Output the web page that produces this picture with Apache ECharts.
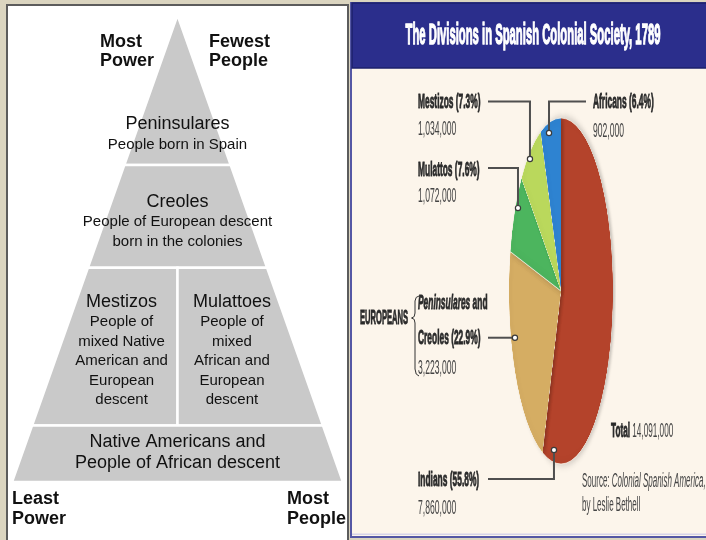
<!DOCTYPE html>
<html><head><meta charset="utf-8">
<script src="https://cdn.jsdelivr.net/npm/echarts@6/dist/echarts.min.js"></script>
<style>
html,body{margin:0;padding:0;background:#dbd5c0;}
#wrap{position:relative;width:706px;height:540px;overflow:hidden;}
#bg,#fg{position:absolute;left:0;top:0;width:706px;height:540px;}
#pie{position:absolute;}
</style></head><body>
<div id="wrap"><div id="bg"></div><div id="pie"></div><div id="fg"></div></div>
<script>
// ---------------- data ----------------
const pyramidNames = ['Peninsulares', 'Creoles', 'Mestizos', 'Mulattoes', 'Native Americans and\nPeople of African descent'];
const pyramidNotes = ['People born in Spain', 'People of European descent\nborn in the colonies',
  'People of\nmixed Native\nAmerican and\nEuropean\ndescent', 'People of\nmixed\nAfrican and\nEuropean\ndescent', ''];
const pyramidDepth = [[0, 0.321], [0.321, 0.541], [0.541, 0.879], [0.541, 0.879], [0.879, 1]];
const pyramidSide = [[-1, 1], [-1, 1], [-1, 0], [0, 1], [-1, 1]];
const cornerTexts = ['Most\nPower', 'Fewest\nPeople', 'Least\nPower', 'Most\nPeople'];

const title = 'The Divisions in Spanish Colonial Society, 1789';
const groups = ['Indians', 'Peninsulares and Creoles', 'Mulattos', 'Mestizos', 'Africans'];
const population = [7860000, 3223000, 1072000, 1034000, 902000];
const europeansTag = 'EUROPEANS';
const totalLabel = 'Total';
const sourceLines = ['Source: ', 'Colonial Spanish America,', 'by Leslie Bethell'];

// ---------------- layout / style ----------------
const FF = 'Liberation Sans';
const pieColors = ['#b4432b', '#d5ad63', '#4cb55e', '#bad85c', '#2e83d1'];
const pyramidTextAt = [[0, 0.2553], [0, 0.4422], [-0.338, 0.7189], [0.329, 0.7189], [0, 0.9379]];
const pieGeo = {cx: 561, cy: 290.7, rx: 52, ry: 173};
const notes = [
  {t: 0.938, r: 0.93, lineY: 479, endX: 488, textX: 418, nameY: 480, countY: 508},
  {t: 0.633, r: 0.926, lineY: null, endX: 488, textX: 418, nameY: 338, countY: 368, firstY: 303},
  {t: 0.615, r: 0.955, lineY: 168, endX: 488, textX: 418, nameY: 170, countY: 196},
  {t: 0.43, r: 0.967, lineY: 101.5, endX: 488, textX: 418, nameY: 102, countY: 129},
  {t: 0.384, r: 0.94, lineY: 101.5, endX: 586, textX: 593, nameY: 102, countY: 131}
];
const FS = 20, NAME_SX = 0.42, COUNT_SX = 0.43;

// ---------------- background + pyramid chart ----------------
const bg = echarts.init(document.getElementById('bg'), null, {renderer: 'canvas'});
function corner(txt, x, y, lh) {
  return {type: 'text', x: x, y: y, style: {text: txt, fill: '#111', fontSize: 18, fontWeight: 'bold', fontFamily: FF,
    lineHeight: lh, align: 'left', textAlign: 'left', verticalAlign: 'middle', textVerticalAlign: 'middle'}};
}
bg.setOption({
  animation: false,
  backgroundColor: '#dbd5c0',
  graphic: [
    {type: 'rect', z: 0, shape: {x: 7, y: 5, width: 341, height: 545}, style: {fill: '#ffffff', stroke: '#5c5c5c', lineWidth: 2}},
    {type: 'rect', z: 0, shape: {x: 351, y: 3, width: 362, height: 534}, style: {fill: '#fcf5eb', stroke: '#5457a4', lineWidth: 2}},
    {type: 'rect', z: 1, shape: {x: 352, y: 533.5, width: 360, height: 1.5}, style: {fill: '#d6d3ea'}},
    {type: 'rect', z: 1, shape: {x: 352, y: 3, width: 360, height: 65}, style: {fill: '#2b2e8c', stroke: '#1d206c', lineWidth: 1.5}},
    {type: 'text', z: 2, x: 533, y: 35.5, scaleX: 0.376, style: {text: title, fill: '#ffffff', fontSize: 30, fontWeight: 'bold', fontFamily: FF,
      stroke: '#ffffff', lineWidth: 1.4, align: 'center', textAlign: 'center', verticalAlign: 'middle', textVerticalAlign: 'middle'}},
    corner(cornerTexts[0], 100, 51.75, 18.5),
    corner(cornerTexts[1], 209, 51.75, 18.5),
    corner(cornerTexts[2], 12, 509, 20),
    corner(cornerTexts[3], 287, 509, 20)
  ],
  grid: {left: 12, right: 363, top: 15, bottom: 58},
  xAxis: {type: 'value', min: -1, max: 1, show: false},
  yAxis: {type: 'value', min: 0, max: 1, inverse: true, show: false},
  series: [{
    type: 'custom',
    silent: true,
    data: pyramidDepth.map((d, i) => [d[0], d[1], pyramidSide[i][0], pyramidSide[i][1]]),
    renderItem: function (params, api) {
      const y0 = api.value(0), y1 = api.value(1), s0 = api.value(2), s1 = api.value(3);
      const pts = [[s0 * y0, y0], [s1 * y0, y0], [s1 * y1, y1], [s0 * y1, y1]].map(p => api.coord(p));
      const i = params.dataIndex;
      const tp = api.coord(pyramidTextAt[i]);
      let lines = pyramidNames[i].split('\n').map(l => '{t|' + l + '}');
      if (pyramidNotes[i]) lines = lines.concat(pyramidNotes[i].split('\n').map(l => '{d|' + l + '}'));
      return {type: 'group', children: [
        {type: 'polygon', shape: {points: pts}, style: {fill: '#c9c9c9', stroke: '#ffffff', lineWidth: 2.5}},
        {type: 'text', x: tp[0], y: tp[1], style: {
          text: lines.join('\n'), fill: '#111', align: 'center', textAlign: 'center',
          verticalAlign: 'middle', textVerticalAlign: 'middle',
          rich: {
            t: {fontSize: 18, fontFamily: FF, lineHeight: 21, fill: '#111', align: 'center'},
            d: {fontSize: 15, fontFamily: FF, lineHeight: 19.5, fill: '#111', align: 'center'}
          }
        }}
      ]};
    }
  }]
});

// ---------------- pie (elliptical via horizontal squash) ----------------
const S = 2 * pieGeo.ry + 20;
const pieDiv = document.getElementById('pie');
pieDiv.style.left = (pieGeo.cx - S / 2) + 'px';
pieDiv.style.top = (pieGeo.cy - S / 2) + 'px';
pieDiv.style.width = S + 'px';
pieDiv.style.height = S + 'px';
pieDiv.style.transformOrigin = '50% 50%';
pieDiv.style.transform = 'scaleX(' + (pieGeo.rx / pieGeo.ry) + ')';
const pc = echarts.init(pieDiv, null, {renderer: 'canvas'});
pc.setOption({
  animation: false,
  backgroundColor: 'transparent',
  series: [{
    type: 'pie', silent: true, center: ['50%', '50%'], radius: [0, pieGeo.ry],
    startAngle: 90, clockwise: true, label: {show: false}, labelLine: {show: false},
    itemStyle: {borderColor: 'rgba(255,250,240,0.7)', borderWidth: 1, shadowBlur: 10, shadowColor: 'rgba(0,0,0,0.22)', shadowOffsetX: 6},
    data: groups.map((g, i) => ({name: g, value: population[i], itemStyle: {color: pieColors[i]}}))
  }]
});

// ---------------- annotations ----------------
const total = population.reduce((a, b) => a + b, 0);
let acc = 0;
const spans = population.map(v => { const a0 = acc / total * 360; acc += v; return [a0, acc / total * 360]; });
function ellPt(deg, r) {
  const a = deg * Math.PI / 180;
  return [pieGeo.cx + pieGeo.rx * r * Math.sin(a), pieGeo.cy - pieGeo.ry * r * Math.cos(a)];
}
const fmt = n => n.toLocaleString('en-US');
const pct = v => (v / total * 100).toFixed(1) + '%';
function txt(text, x, y, sx, opts) {
  return {type: 'text', x: x, y: y, scaleX: sx, z: 5, style: Object.assign({
    text: text, fill: '#2a2a2a', fontSize: FS, fontFamily: FF, align: 'left', textAlign: 'left',
    verticalAlign: 'middle', textVerticalAlign: 'middle'}, opts || {})};
}
const BOLD = {fontWeight: 'bold', stroke: '#2a2a2a', lineWidth: 0.9};
const lines = [], dots = [], labels = [];
groups.forEach((g, i) => {
  const n = notes[i];
  const sp = spans[i];
  const p = ellPt(sp[0] + n.t * (sp[1] - sp[0]), n.r);
  const pts = n.lineY == null ? [p, [n.endX, p[1]]] : [p, [p[0], n.lineY], [n.endX, n.lineY]];
  lines.push({type: 'polyline', z: 4, shape: {points: pts}, style: {stroke: '#4f4f4f', lineWidth: 2, fill: null}});
  dots.push({type: 'circle', z: 6, shape: {cx: p[0], cy: p[1], r: 2.6}, style: {fill: '#ffffff', stroke: '#3a3a3a', lineWidth: 1.2}});
  if (g.indexOf(' and ') > 0) {
    const parts = g.split(' and ');
    labels.push(txt('{i|' + parts[0] + '} and', n.textX, n.firstY, NAME_SX, Object.assign({}, BOLD, {
      rich: {i: {fontStyle: 'italic', fontWeight: 'bold', fontSize: FS, fontFamily: FF, fill: '#2a2a2a', stroke: '#2a2a2a', lineWidth: 0.9}}})));
    labels.push(txt(parts[1] + ' (' + pct(population[i]) + ')', n.textX, n.nameY, NAME_SX, BOLD));
  } else {
    labels.push(txt(g + ' (' + pct(population[i]) + ')', n.textX, n.nameY, NAME_SX, BOLD));
  }
  labels.push(txt(fmt(population[i]), n.textX, n.countY, COUNT_SX, {fill: '#444'}));
});
labels.push(txt(europeansTag, 360, 318, 0.38, BOLD));
labels.push({type: 'polyline', z: 5, shape: {points: [[419, 296], [416.2, 297.4], [415, 301], [415, 313], [414.2, 316.6], [411.5, 318],
  [414.2, 319.4], [415, 323], [415, 369], [416.2, 374], [419, 376]]}, style: {stroke: '#333', lineWidth: 1, fill: null}});
labels.push(txt('{b|' + totalLabel + '} ' + fmt(total), 611, 431, 0.41, {fill: '#444',
  rich: {b: {fontWeight: 'bold', fontSize: FS, fontFamily: FF, fill: '#2a2a2a', stroke: '#2a2a2a', lineWidth: 0.9}}}));
labels.push(txt(sourceLines[0] + '{i|' + sourceLines[1] + '}', 582, 481, 0.40, {fill: '#444',
  rich: {i: {fontStyle: 'italic', fontSize: FS, fontFamily: FF, fill: '#444'}}}));
labels.push(txt(sourceLines[2], 582, 505, 0.40, {fill: '#444'}));

const fg = echarts.init(document.getElementById('fg'), null, {renderer: 'canvas'});
fg.setOption({animation: false, backgroundColor: 'transparent', graphic: lines.concat(dots, labels)});
</script>
</body></html>
